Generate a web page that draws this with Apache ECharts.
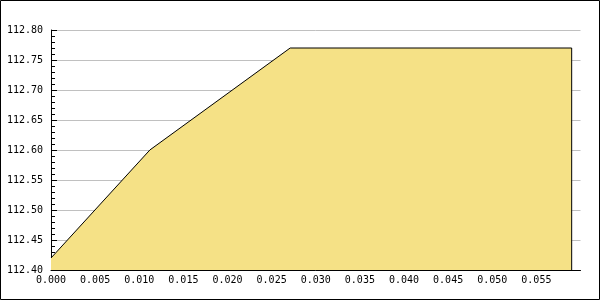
<!DOCTYPE html>
<html>
<head>
<meta charset="utf-8">
<script src="https://cdn.jsdelivr.net/npm/echarts@6/dist/echarts.min.js"></script>
<style>
html,body{margin:0;padding:0;background:#fff;}
#chart{width:600px;height:300px;}
</style>
</head>
<body>
<div id="chart"></div>
<script>
// Data
const xValues = [0, 0.0112, 0.0271, 0.0590, 0.0590];
const yValues = [112.42, 112.60, 112.77, 112.77, 112.40];
const xTickLabels = [0, 0.005, 0.010, 0.015, 0.020, 0.025, 0.030, 0.035, 0.040, 0.045, 0.050, 0.055];
const yTickLabels = [112.40, 112.45, 112.50, 112.55, 112.60, 112.65, 112.70, 112.75, 112.80];

const seriesData = xValues.map((x, i) => [x, yValues[i]]);
const labelFont = {fontFamily: 'DejaVu Sans Mono', fontSize: 10, color: '#000'};

const chart = echarts.init(document.getElementById('chart'), null, {renderer: 'canvas'});
chart.setOption({
  animation: false,
  backgroundColor: '#fff',
  grid: {left: 51, top: 30, right: 19.5, bottom: 30, containLabel: false},
  xAxis: {
    type: 'value',
    min: 0,
    max: 0.06,
    interval: 0.005,
    axisLine: {show: true, lineStyle: {color: '#000', width: 1}},
    axisTick: {show: true, inside: true, length: 6, lineStyle: {color: '#000'}, customValues: xTickLabels},
    axisLabel: Object.assign({margin: 5, customValues: xTickLabels, formatter: v => Number(v).toFixed(3)}, labelFont),
    splitLine: {show: false}
  },
  yAxis: {
    type: 'value',
    min: 112.40,
    max: 112.80,
    interval: 0.05,
    axisLine: {show: true, lineStyle: {color: '#000', width: 1}},
    axisTick: {show: true, inside: true, length: 6, lineStyle: {color: '#000'}},
    minorTick: {show: true, splitNumber: 5, length: 4, lineStyle: {color: '#000'}},
    axisLabel: Object.assign({margin: 8, customValues: yTickLabels, formatter: v => Number(v).toFixed(2)}, labelFont),
    splitLine: {show: true, lineStyle: {color: '#c0c0c0', width: 1}}
  },
  series: [{
    type: 'line',
    data: seriesData,
    symbol: 'none',
    lineStyle: {color: '#000', width: 1},
    areaStyle: {color: '#f5e186', opacity: 1, origin: 'start'},
    z: 1
  }],
  graphic: [{
    type: 'rect',
    shape: {x: 0.5, y: 0.5, width: 599, height: 299},
    style: {fill: null, stroke: '#000', lineWidth: 1},
    silent: true
  }]
});
</script>
</body>
</html>
